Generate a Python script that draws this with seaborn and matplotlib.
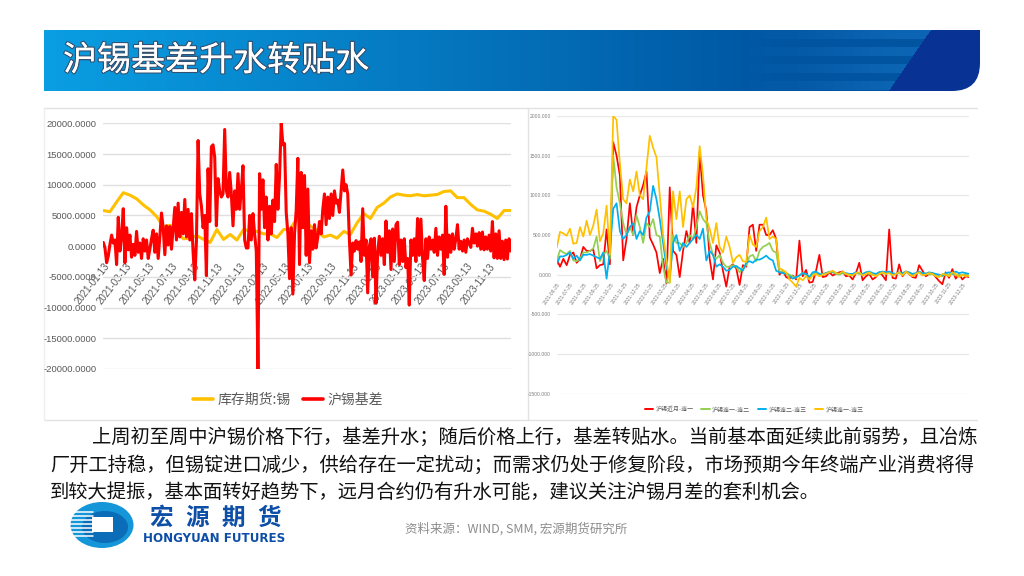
import numpy as np
import pandas as pd
import matplotlib
matplotlib.use('Agg')
import matplotlib.pyplot as plt
import matplotlib.patheffects as pe
from matplotlib.patches import Ellipse, Rectangle, FancyBboxPatch
import seaborn as sns

TITLE = '沪锡基差升水转贴水'
BODY = ['上周初至周中沪锡价格下行,基差升水;随后价格上行,基差转贴水。当前基本面延续此前弱势,且冶炼',
        '厂开工持稳,但锡锭进口减少,供给存在一定扰动;而需求仍处于修复阶段,市场预期今年终端产业消费将得',
        '到较大提振,基本面转好趋势下,远月合约仍有升水可能,建议关注沪锡月差的套利机会。']
BODY = [line.replace(',', '\uff0c').replace(';', '\uff1b') for line in BODY]
SOURCE = '资料来源\uff1aWIND, SMM, 宏源期货研究所'

left_dates = ['2021-01-13', '2021-03-13', '2021-05-13', '2021-07-13', '2021-09-13', '2021-11-13',
              '2022-01-13', '2022-03-13', '2022-05-13', '2022-07-13', '2022-09-13', '2022-11-13',
              '2023-01-13', '2023-03-13', '2023-05-13', '2023-07-13', '2023-09-13', '2023-11-13']
left_ticks = [-20000, -15000, -10000, -5000, 0, 5000, 10000, 15000, 20000]

stock_tin = [5800, 5600, 7200, 8700, 8300, 7700, 6700, 5900, 4800, 3200, 3400, 2200, 1200, 1300, 1700, 1100,
             600, 2700, 1100, 1900, 1000, 2700, 2500, 2400, 2000, 2000, 1400, 2700, 2800, 4500, 3800, 3300,
             2500, 1500, 1800, 1300, 2400, 1900, 3800, 5300, 4500, 6300, 7000, 8000, 8500, 8300, 8200, 8400,
             8200, 8300, 8400, 8900, 9000, 7900, 7900, 6800, 5900, 5700, 5200, 4500, 5800, 5800]

basis = [600, -300, -2700, -1600, 300, 1800, 500, 1000, -3000, 4700,
         -800, 1500, 6100, -2700, 3000, -600, 1800, -1800, 300, -1500,
         2400, -1000, 500, -2000, 1200, -800, 1000, -2000, -500, 1200,
         2600, -1000, 2000, -2000, 1500, 5400, 3000, -1400, 3300, 200,
         3200, -500, 2800, 6300, 1000, 7000, 1500, 5500, 2000, 7600,
         1500, 6000, 1000, 5300, -1000, -5500, 800, 17200, 8500, 6500,
         3000, 5000, -4800, 12600, 4000, 16200, 16500, 14500, 3300, 11000,
         9000, 8000, 8500, 19000, 9000, 8000, 12000, 8500, 3300, 9000,
         6000, 11800, 6000, 9000, 13100, 1000, -300, -300, 5000, 1000,
         5300, 2000, -800, -20000, 11800, 6000, 10800, 3000, 8000, 1000,
         6500, 2000, 7500, 4000, 13300, 6000, 11500, 20000, 16500, 16700,
         5500, 2000, -5300, 3000, -7800, 2000, 5800, 14300, -3000, 12000,
         3000, 11500, -1500, 9300, -2700, 2500, -500, 3500, -300, 1500,
         4000, 2000, 6000, 8500, 3500, 8000, 4500, 8500, 5000, 9000,
         7000, 7500, 5500, 9000, 12400, 9000, 10000, 8500, 1000, -4700,
         500, -800, 900, -500, 700, -2500, 6100, -1500, 1000, -7600,
         0, 1200, -5000, 1300, -9300, -1000, 1600, -1500, 1200, -3000,
         4100, -1000, 2500, -3800, 2800, -2500, 3500, 3900, -3000, 1000,
         -2500, 1200, -3500, -2000, -9600, 1000, -1500, 1200, -2500, 4500,
         -1500, 4400, -2000, -5600, 1200, -2000, 1500, -500, 1000, -1000,
         2900, -1500, 1500, -500, 1800, -4600, 6500, -1800, 1800, -1000,
         2000, -500, 1200, 3500, -500, 800, -800, 1000, -1000, 1200,
         500, -200, 2900, 500, 2000, 0, 2200, -500, 2300, -600,
         1500, -500, 1800, -800, 4000, -1900, 2000, -2000, 2500, -2000,
         800, -2200, 1000, -2100, 1200, -800]

right_dates = ['2021-06-25', '2021-07-25', '2021-08-25', '2021-09-25', '2021-10-25', '2021-11-25', '2021-12-25',
               '2022-01-25', '2022-02-25', '2022-03-25', '2022-04-25', '2022-05-25', '2022-06-25', '2022-07-25',
               '2022-08-25', '2022-09-25', '2022-10-25', '2022-11-25', '2022-12-25', '2023-01-25', '2023-02-25',
               '2023-03-25', '2023-04-25', '2023-05-25', '2023-06-25', '2023-07-25', '2023-08-25', '2023-09-25',
               '2023-10-25', '2023-11-25', '2023-12-25']
right_ticks = [-1500, -1000, -500, 0, 500, 1000, 1500, 2000]

near_1 = [200, 100, 200, 120, 250, 280, 150, 200, 350, 300, 300, 320, 80, 120, 130, 570, 130, 1670, 1500, 1250,
          180, 450, 900, 500, 850, 1000, 1130, 1300, 470, 380, 280, 20, 200, -110, 1100, 300, 250, -30, 300, 550,
          400, 900, 400, 1550, 1000, 800, 200, -60, 370, 280, 50, -150, 100, 130, 80, -130, 120, 100, 600, 630,
          300, 630, 630, 500, 500, 560, 450, 0, 50, -30, -50, -10, -60, 430, -20, 60, -100, -90, 50, 250,
          -30, -20, 30, -10, 10, 30, 40, -20, -10, -60, 20, 150, -70, -20, 10, -60, -30, 30, -10, -70, 570, -40,
          -50, 130, -20, 40, 10, -30, -40, 120, 50, -20, 10, 20, -30, -80, -120, 30, -40, 70, -50, 10, -60, -20, -30]
first_second = [170, 310, 280, 260, 300, 180, 170, 200, 280, 280, 300, 330, 480, 170, 250, 300, 200, 1500, 1100, 900,
                650, 500, 600, 500, 750, 600, 400, 650, 600, 700, 500, 480, 100, -100, -100, 500, 400, 400, 350, 400,
                500, 450, 600, 800, 700, 650, 400, 250, 200, 250, 150, 100, 100, 120, 100, 30, 80, 120, 230, 250,
                170, 300, 350, 370, 400, 300, 280, 30, 50, 20, 0, -20, -40, -10, 20, 0, -30, 10, 20, 0,
                10, 20, 40, 30, 10, 0, 20, 10, -10, 0, 20, 10, 0, 20, 10, 0, -10, 10, 20, 10, 30, 0,
                10, 20, 0, 30, 20, 0, 10, 30, 10, 20, 0, 10, -10, 0, -20, 10, 0, 20, -10, 0, -10, 10, -20]
second_third = [130, 230, 230, 250, 280, 200, 240, 180, 250, 250, 260, 240, 220, 200, 280, -50, 300, 830, 900, 550,
                450, 500, 600, 650, 450, 550, 500, 720, 800, 1120, 950, 700, 400, 100, -30, 400, 500, 300, 400, 350,
                400, 450, 500, 450, 580, 180, 300, 250, 100, 130, 100, 50, 60, 100, 110, 80, 50, 150, 170, 150,
                190, 190, 210, 240, 200, 180, 50, 30, 20, 10, -20, -50, -30, -10, 20, 10, -30, 30, 40, 10,
                0, 20, 30, 40, 20, 10, 30, 20, 10, 10, 30, 20, 10, 30, 40, 20, 10, 30, 40, 30, 40, 20,
                10, 30, 20, 40, 30, 10, 20, 40, 20, 10, 30, 20, 10, 0, -10, 20, 30, 10, 40, 20, 30, 20, 10]
first_third = [340, 540, 520, 490, 580, 390, 400, 600, 480, 680, 500, 620, 820, 420, 520, 870, 250, 2000, 1950, 1400,
               950, 900, 1200, 1050, 1300, 1000, 950, 1350, 1750, 1600, 1480, 1000, 500, 200, -100, 1050, 700, 1050, 600, 950,
               1000, 850, 1100, 1620, 1250, 700, 580, 400, 650, 350, 280, 480, 350, 150, 220, 250, 170, 160, 500, 380,
               350, 550, 600, 720, 450, 480, 450, 80, 60, 30, -60, -100, -150, -40, -70, -20, -60, -10, 10, -20,
               0, 10, 30, 50, 20, 10, 40, 10, 0, -10, 20, 30, -10, 10, 30, 0, -20, 10, 30, 10, 20, -10,
               10, 30, -10, 40, 10, -20, 10, 30, -10, 0, 20, 10, -20, -30, 10, 0, -20, 30, 10, -30, 0, -20, -10]


def to_long(series):
    # every series runs over the full width of its chart
    frames = []
    for name, vals in series.items():
        frames.append(pd.DataFrame({'x': np.linspace(0, 1, len(vals)), 'y': vals, 'name': name}))
    return pd.concat(frames, ignore_index=True)


def px_axes(fig, x0, y0, x1, y1):
    return fig.add_axes([x0 / 1024, 1 - y1 / 576, (x1 - x0) / 1024, (y1 - y0) / 576])


sns.set_theme(style='white')
plt.rcParams['font.family'] = ['Noto Sans CJK SC', 'DejaVu Sans']
TICK_FONT = ['Liberation Sans', 'DejaVu Sans']

fig = plt.figure(figsize=(10.24, 5.76), dpi=100, facecolor='white')

# page furniture, in pixel coordinates
bg = fig.add_axes([0, 0, 1, 1])
bg.set_xlim(0, 1024)
bg.set_ylim(576, 0)
bg.axis('off')

w, h = 936, 61
t = np.linspace(0, 1, w)[None, :, None]
c0 = np.array([10, 158, 226]) / 255
c1 = np.array([0, 84, 160]) / 255
banner = np.repeat(c0 * (1 - np.minimum(t * 1.25, 1)) + c1 * np.minimum(t * 1.25, 1), h, axis=0)
yy, xx = np.mgrid[0:h, 0:w]
bands = ((yy % 17) < 9) & (xx > 700)
banner[bands] += np.array([0.05, 0.07, 0.08]) * np.clip((xx[bands] - 700) / 160, 0, 1)[:, None]
banner[xx > 888 - 44 + (h - yy) * 0.69] = np.array([8, 50, 148]) / 255
im = bg.imshow(np.clip(banner, 0, 1), extent=(44, 980, 91, 30), aspect='auto', zorder=1)
clip = FancyBboxPatch((14, 0), 966, 91, boxstyle='round,pad=0,rounding_size=28', transform=bg.transData, fc='none', ec='none')
bg.add_patch(clip)
im.set_clip_path(clip)
bg.set_xlim(0, 1024)
bg.set_ylim(576, 0)
bg.text(63, 61, TITLE, fontsize=24.5, color='white', va='center', ha='left', zorder=3,
        path_effects=[pe.withStroke(linewidth=1.8, foreground='#35506e'), pe.Normal()])

bg.plot([44, 977], [108, 108], color='#e2e2e2', lw=1)
bg.plot([44, 977], [420, 420], color='#e2e2e2', lw=1)
bg.plot([528, 528], [108, 420], color='#e2e2e2', lw=1)
bg.plot([44, 44], [108, 420], color='#efefef', lw=1)

bg.text(92, 437, BODY[0], fontsize=13.9, color='#111111', va='center', ha='left')
bg.text(50, 465, BODY[1], fontsize=13.85, color='#111111', va='center', ha='left')
bg.text(50, 492, BODY[2], fontsize=13.9, color='#111111', va='center', ha='left')
bg.text(405, 529, SOURCE, fontsize=9, color='#8c8c8c', va='center', ha='left')

# logo
bg.add_patch(Ellipse((102, 525), 63, 46, fc='#1496d8', ec='none', zorder=2))
bg.add_patch(Ellipse((105, 527), 46, 32, fc='#0b6db8', ec='none', zorder=2))
for sy in range(512, 540, 4):
    bg.plot([69, 93], [sy, sy], color='white', lw=1.1, zorder=3)
bg.add_patch(Rectangle((92, 517), 21, 15, fc='white', ec='none', zorder=5))
for i, ch in enumerate('宏源期货'):
    bg.text(161 + i * 36, 518, ch, fontsize=17, weight='bold', color='#0d4ea6', va='center', ha='center')
bg.text(143, 538, 'HONGYUAN FUTURES', fontsize=8.6, weight='bold', family='DejaVu Sans', color='#0d4ea6', va='center', ha='left')

# left chart
ax1 = px_axes(fig, 103.3, 123.3, 510.7, 369)
left_colors = {'库存期货:锡': '#FFC000', '沪锡基差': '#FF0000'}
sns.lineplot(data=to_long({'库存期货:锡': stock_tin, '沪锡基差': basis}), x='x', y='y', hue='name', palette=left_colors,
             linewidth=2.2, ax=ax1, sort=False, errorbar=None)
# moving the spine resets the ticks, so it goes first
ax1.spines['bottom'].set_position(('data', 0))
ax1.set_xlim(0, 1)
ax1.set_ylim(-20000, 20000)
ax1.set_yticks(left_ticks)
ax1.set_yticklabels(['%.4f' % v for v in left_ticks], fontsize=6.8, color='#595959', family=TICK_FONT)
ax1.set_xticks(np.linspace(0, 0.9476, len(left_dates)))
ax1.set_xticklabels(left_dates, rotation=52, ha='right', rotation_mode='anchor', fontsize=7, color='#595959', family=TICK_FONT)
for s in ['top', 'left', 'right', 'bottom']:
    ax1.spines[s].set_visible(False)
ax1.tick_params(axis='x', length=0, pad=11)
ax1.tick_params(axis='y', length=0, pad=5)
ax1.set_xlabel('')
ax1.set_ylabel('')
ax1.grid(axis='y', color='#e0e0e0', lw=1)
ax1.grid(axis='x', visible=False)
ax1.set_axisbelow(True)
ax1.patch.set_alpha(0)
leg = ax1.legend(loc='center', bbox_to_anchor=(288 / 1024, 1 - 400 / 576), bbox_transform=fig.transFigure, ncol=2,
                 frameon=False, fontsize=10, handlelength=1.45, columnspacing=0.9, handletextpad=0.3)
for line in leg.get_lines():
    line.set_linewidth(2.6)
for txt in leg.get_texts():
    txt.set_color('#595959')

# right chart
ax2 = px_axes(fig, 556.7, 116, 969, 393.7)
right_colors = {'沪锡近月-连一': '#FF0000', '沪锡连一-连二': '#92D050', '沪锡连二-连三': '#00B0F0', '沪锡连一-连三': '#FFC000'}
sns.lineplot(data=to_long({'沪锡近月-连一': near_1, '沪锡连一-连二': first_second, '沪锡连二-连三': second_third,
                           '沪锡连一-连三': first_third}), x='x', y='y', hue='name', palette=right_colors,
             linewidth=1.25, ax=ax2, sort=False, errorbar=None)
ax2.spines['bottom'].set_position(('data', 0))
ax2.set_xlim(0, 1)
ax2.set_ylim(-1500, 2000)
ax2.set_yticks(right_ticks)
ax2.set_yticklabels(['%.3f' % v for v in right_ticks], fontsize=3.6, color='#7f7f7f', family=TICK_FONT)
ax2.set_xticks(np.linspace(0, 0.985, len(right_dates)))
ax2.set_xticklabels(right_dates, rotation=55, ha='right', rotation_mode='anchor', fontsize=3.6, color='#7f7f7f', family=TICK_FONT)
for s in ['top', 'left', 'right', 'bottom']:
    ax2.spines[s].set_visible(False)
ax2.tick_params(axis='x', length=0, pad=5)
ax2.tick_params(axis='y', length=0, pad=4)
ax2.set_xlabel('')
ax2.set_ylabel('')
ax2.grid(axis='y', color='#e8e8e8', lw=0.9)
ax2.grid(axis='x', visible=False)
ax2.set_axisbelow(True)
ax2.patch.set_alpha(0)
leg2 = ax2.legend(loc='center', bbox_to_anchor=(754 / 1024, 1 - 409 / 576), bbox_transform=fig.transFigure, ncol=4,
                  frameon=False, fontsize=4.3, handlelength=1.4, columnspacing=1.3, handletextpad=0.4)
for line in leg2.get_lines():
    line.set_linewidth(1.4)
for txt in leg2.get_texts():
    txt.set_color('#595959')

fig.savefig('out.png', dpi=100)
